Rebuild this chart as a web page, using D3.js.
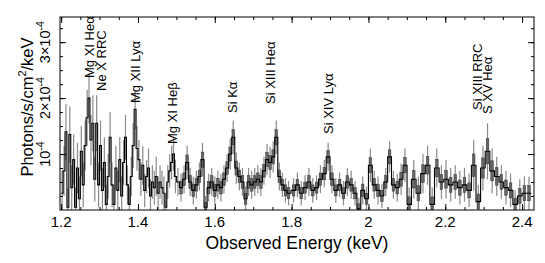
<!DOCTYPE html>
<html><head><meta charset="utf-8">
<script src="https://cdn.jsdelivr.net/npm/d3@7"></script>
<style>body{margin:0;background:#fff} svg{display:block}</style>
</head><body><svg id="c" width="545" height="263"></svg>
<script>
// bin centres (keV)
const energy = [
1.2025,1.2075,1.2125,1.2175,1.2225,1.2275,1.2325,1.2375,1.2425,1.2475,
1.2525,1.2575,1.2625,1.2675,1.2725,1.2775,1.2825,1.2875,1.2925,1.2975,
1.3025,1.3075,1.3125,1.3175,1.3225,1.3275,1.3325,1.3375,1.3425,1.3475,
1.3525,1.3575,1.3625,1.3675,1.3725,1.3775,1.3825,1.3875,1.3925,1.3975,
1.4025,1.4075,1.4125,1.4175,1.4225,1.4275,1.4325,1.4375,1.4425,1.4475,
1.4525,1.4575,1.4625,1.4675,1.4725,1.4775,1.4825,1.4875,1.4925,1.4975,
1.504,1.512,1.520,1.528,1.536,1.544,1.552,1.560,1.568,1.576,
1.584,1.592,1.600,1.608,1.616,1.624,1.632,1.640,1.648,1.656,
1.664,1.672,1.680,1.688,1.696,1.704,1.712,1.720,1.728,1.736,
1.744,1.752,1.760,1.768,1.776,1.784,1.792,
1.805,1.815,1.825,1.835,1.845,1.855,1.865,1.875,1.885,1.895,
1.905,1.915,1.925,1.935,1.945,1.955,1.965,1.975,1.985,1.995,
2.005,2.015,2.025,2.035,2.045,2.055,2.065,2.075,2.085,2.095,
2.106,2.118,2.130,2.142,2.154,2.166,2.178,2.190,2.202,2.214,
2.226,2.238,2.250,2.262,2.274,2.286,2.298,2.310,2.322,2.334,
2.346,2.358,2.370,2.382,2.394,2.406,2.418];
// flux in units of 1e-4 photons/s/cm^2/keV
const flux = [
0.3,0.7,1.4,0.05,1.35,0.4,0.9,0.05,0.75,0.2,
1.05,0.45,1.15,1.65,2.0,1.25,1.55,0.55,1.55,0.45,
1.15,0.35,0.85,0.1,0.6,1.3,0.45,0.1,0.75,0.35,
0.9,0.25,0.85,1.3,0.45,0.1,0.6,1.15,1.8,1.1,
0.9,0.55,0.8,0.35,0.6,0.75,0.25,0.5,0.4,0.6,
0.3,0.5,0.4,0.3,0.05,0.5,0.7,0.85,1.0,0.6,
0.5,0.4,0.55,0.85,0.5,0.35,0.45,0.6,0.9,0.05,
0.4,0.5,0.35,0.45,0.4,0.55,0.75,1.0,1.3,0.75,
0.6,0.5,0.2,0.5,0.45,0.5,0.55,0.5,0.7,0.9,
0.85,0.95,1.3,0.6,0.45,0.35,0.3,
0.35,0.45,0.3,0.4,0.5,0.35,0.4,0.55,0.65,0.95,
0.55,0.35,0.45,0.3,0.5,0.45,0.3,0.02,0.35,0.2,
0.8,0.45,0.35,0.25,0.5,0.95,0.45,0.4,0.55,0.8,
0.1,0.55,0.3,0.65,0.8,0.1,0.75,0.5,0.55,0.45,
0.5,0.4,0.45,0.35,0.8,0.15,0.75,1.05,0.7,0.6,
0.5,0.4,0.35,0.1,0.25,0.3,0.3];
const fluxErr = [
0.4,0.45,0.5,0.35,0.5,0.4,0.45,0.35,0.45,0.4,
0.45,0.4,0.45,0.5,0.45,0.45,0.5,0.4,0.5,0.4,
0.45,0.4,0.45,0.35,0.4,0.45,0.4,0.35,0.4,0.35,
0.4,0.35,0.4,0.4,0.35,0.3,0.35,0.4,0.35,0.4,
0.35,0.3,0.35,0.3,0.3,0.35,0.3,0.3,0.3,0.35,
0.3,0.3,0.3,0.3,0.25,0.3,0.3,0.3,0.3,0.3,
0.25,0.25,0.25,0.3,0.25,0.25,0.25,0.25,0.3,0.2,
0.25,0.25,0.25,0.25,0.25,0.25,0.25,0.28,0.3,0.28,
0.25,0.25,0.22,0.25,0.25,0.25,0.25,0.25,0.25,0.28,
0.28,0.28,0.3,0.25,0.22,0.22,0.22,
0.22,0.22,0.22,0.22,0.25,0.22,0.22,0.25,0.25,0.25,
0.25,0.22,0.22,0.22,0.25,0.25,0.22,0.2,0.25,0.22,
0.3,0.25,0.25,0.22,0.25,0.28,0.25,0.25,0.28,0.3,
0.3,0.35,0.3,0.35,0.35,0.3,0.35,0.3,0.35,0.3,
0.3,0.3,0.3,0.3,0.45,0.3,0.4,0.5,0.4,0.35,
0.3,0.3,0.3,0.25,0.3,0.3,0.3];

const xTicks = [1.2,1.4,1.6,1.8,2,2.2,2.4];
const xTickLabels = ["1.2","1.4","1.6","1.8","2","2.2","2.4"];
const yTicks = [1,2,3];
const yTickLabels = [["10","-4"],["2×10","-4"],["3×10","-4"]];
const lineNames = ["Mg XI Heα","Ne X RRC","Mg XII Lyα","Mg XI Heβ","Si Kα","Si XIII Heα","Si XIV Lyα","Si XIII RRC","S XV Heα"];
const lineEnergies = [1.274,1.303,1.392,1.489,1.645,1.744,1.895,2.283,2.309];
const labelBottom = [78,91,103,144,113,104,134,110,114]; // layout (px)

const W=545,H=263, L=60,R=534,T=17,B=210;
const FONT="'Liberation Sans', Arial, Helvetica, sans-serif";
const svg=d3.select("#c");
const x=d3.scaleLinear().domain([1.197,2.431]).range([L,R]);
const y=d3.scaleLinear().domain([0,3.45]).range([B,T]);

svg.append("defs").append("clipPath").attr("id","clip")
  .append("rect").attr("x",L).attr("y",T).attr("width",R-L).attr("height",B-T);
const plot=svg.append("g").attr("clip-path","url(#clip)");

const n=energy.length;
const bins=energy.map((e,i)=>{
  const lo = i===0 ? e-(energy[1]-energy[0])/2 : (energy[i-1]+e)/2;
  const hi = i===n-1 ? e+(e-energy[n-2])/2 : (e+energy[i+1])/2;
  return {e,lo,hi,v:flux[i],err:fluxErr[i]};
});

// error bars
plot.selectAll("line.err").data(bins).join("line").attr("class","err")
  .attr("x1",d=>x(d.e)).attr("x2",d=>x(d.e))
  .attr("y1",d=>y(d.v-d.err)).attr("y2",d=>y(d.v+d.err))
  .attr("stroke","#8a8a8a").attr("stroke-width",1.2);
const wide=bins.filter(d=>x(d.hi)-x(d.lo)>=2.9);
plot.selectAll("rect.core").data(wide).join("rect").attr("class","core")
  .attr("x",d=>x(d.e)-1.3).attr("width",2.6)
  .attr("y",d=>y(d.v+d.err*0.45)).attr("height",d=>y(d.v-d.err*0.45)-y(d.v+d.err*0.45))
  .attr("fill","#666").attr("stroke","#333").attr("stroke-width",0.5);

// step histogram
const pts=[];
bins.forEach(b=>{pts.push([b.lo,b.v]);pts.push([b.hi,b.v]);});
plot.append("path").datum(pts)
  .attr("d",d3.line().x(d=>x(d[0])).y(d=>y(d[1])))
  .attr("fill","none").attr("stroke","#000").attr("stroke-width",1.1);

// axes ticks (inward, mirrored)
const minorX=d3.range(1.2,2.431,0.05);
const minorY=d3.range(0.25,3.45,0.25);
function tickAxis(axisFn, scale, vals, size, transform){
  const g=svg.append("g").attr("transform",transform)
    .call(axisFn(scale).tickValues(vals).tickSize(size).tickFormat(""));
  g.select(".domain").remove();
  g.selectAll("line").attr("stroke","#000");
}
tickAxis(d3.axisBottom,x,minorX,-3,`translate(0,${B})`);
tickAxis(d3.axisBottom,x,xTicks,-6,`translate(0,${B})`);
tickAxis(d3.axisTop,x,minorX,-3,`translate(0,${T})`);
tickAxis(d3.axisTop,x,xTicks,-6,`translate(0,${T})`);
tickAxis(d3.axisLeft,y,minorY,-3,`translate(${L},0)`);
tickAxis(d3.axisLeft,y,yTicks,-6,`translate(${L},0)`);
tickAxis(d3.axisRight,y,minorY,-3,`translate(${R},0)`);
tickAxis(d3.axisRight,y,yTicks,-6,`translate(${R},0)`);

svg.append("rect").attr("x",L).attr("y",T).attr("width",R-L).attr("height",B-T)
  .attr("fill","none").attr("stroke","#000").attr("stroke-width",1);

// x tick labels
svg.selectAll("text.xt").data(xTicks).join("text").attr("class","xt")
  .attr("x",d=>x(d)).attr("y",226.5).attr("text-anchor","middle")
  .attr("font-family",FONT).attr("font-size",15).text((d,i)=>xTickLabels[i]);

// y tick labels (rotated with superscript)
yTicks.forEach((v,i)=>{
  const t=svg.append("text").attr("transform",`translate(50,${y(v)}) rotate(-90)`)
    .attr("text-anchor","middle").attr("font-family",FONT).attr("font-size",14.5);
  t.append("tspan").text(yTickLabels[i][0]);
  t.append("tspan").attr("dy",-6).attr("font-size",10.5).text(yTickLabels[i][1]);
});

// axis titles
svg.append("text").attr("x",297).attr("y",249).attr("text-anchor","middle")
  .attr("font-family",FONT).attr("font-size",17.5).text("Observed Energy (keV)");
const yt=svg.append("text").attr("transform",`translate(33,107) rotate(-90)`)
  .attr("text-anchor","middle").attr("font-family",FONT).attr("font-size",16.5);
yt.append("tspan").text("Photons/s/cm");
yt.append("tspan").attr("dy",-7).attr("font-size",11).text("2");
yt.append("tspan").attr("dy",7).text("/keV");

// line labels
svg.selectAll("text.ll").data(lineNames).join("text").attr("class","ll")
  .attr("transform",(d,i)=>`translate(${x(lineEnergies[i])+4.8},${labelBottom[i]}) rotate(-90)`)
  .attr("font-family",FONT).attr("font-size",13).text(d=>d);
</script></body></html>
